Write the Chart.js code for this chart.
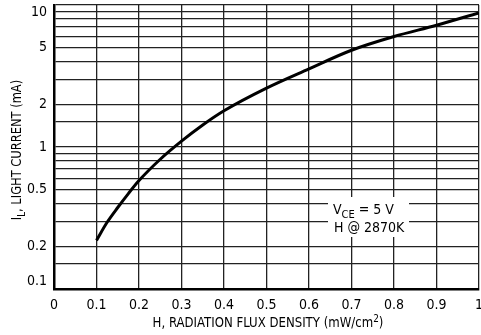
<!DOCTYPE html>
<html lang="en">
<head>
  <meta charset="UTF-8">
  <title>Light Current vs Radiation Flux Density</title>
  <script src="https://cdn.jsdelivr.net/npm/chart.js"></script>
  <style>
    html, body { margin: 0; padding: 0; background: #fff; }
    #wrap { width: 481px; height: 335px; }
  </style>
</head>
<body>
  <div id="wrap"><canvas id="chart"></canvas></div>
  <script>
    // curve
    const fluxH = [0.1, 0.125, 0.15, 0.175, 0.2, 0.25, 0.3, 0.35, 0.4, 0.5, 0.6, 0.7, 0.8, 0.9, 1.0];
    const lightCurrent = [0.22, 0.295, 0.375, 0.47, 0.58, 0.82, 1.1, 1.43, 1.8, 2.6, 3.55, 4.8, 6.0, 7.2, 8.8];

    // grid lines and labelled ticks
    const xTicks = [0, 0.1, 0.2, 0.3, 0.4, 0.5, 0.6, 0.7, 0.8, 0.9, 1];
    const yGrid = [0.1, 0.15, 0.2, 0.3, 0.4, 0.5, 0.6, 0.7, 0.8, 0.9, 1, 1.5, 2, 3, 4, 5, 6, 7, 8, 9, 10];
    const yLabels = [0.1, 0.2, 0.5, 1, 2, 5, 10];

    const FONT = "'Liberation Sans Narrow', 'DejaVu Sans Condensed', Arial, sans-serif";

    // draws text runs (for sub/superscripts); sx squeezes it a bit like the condensed original
    function drawRich(ctx, segs, x, y, align, sx) {
      sx = sx || 1;
      let total = 0;
      segs.forEach(s => { ctx.font = s.size + 'px ' + FONT; s.w = ctx.measureText(s.t).width; total += s.w; });
      ctx.save();
      ctx.translate(x, y);
      ctx.scale(sx, 1);
      let cx = align === 'center' ? -total / 2 : 0;
      ctx.textAlign = 'left';
      ctx.textBaseline = 'alphabetic';
      segs.forEach(s => {
        ctx.font = s.size + 'px ' + FONT;
        ctx.fillText(s.t, cx, s.dy || 0);
        cx += s.w;
      });
      ctx.restore();
    }

    const labelsPlugin = {
      id: 'labelsPlugin',
      beforeDatasetsDraw(chart) {
        const ctx = chart.ctx;
        ctx.save();
        // white patch behind the note
        ctx.fillStyle = '#fff';
        ctx.fillRect(328, 197, 81, 40);
        ctx.fillStyle = '#000';
        drawRich(ctx, [{t: 'V', size: 14}, {t: 'CE', size: 11, dy: 4}, {t: ' = 5 V', size: 14}], 333, 214, 'left');
        drawRich(ctx, [{t: 'H @ 2870K', size: 14}], 334, 232, 'left');
        ctx.restore();
      },
      afterDraw(chart) {
        const ctx = chart.ctx;
        ctx.save();
        ctx.fillStyle = '#000';
        drawRich(ctx, [{t: 'H, RADIATION FLUX DENSITY (mW/cm', size: 14.5}, {t: '2', size: 11, dy: -5}, {t: ')', size: 14.5}], 268, 327, 'center', 0.9);
        ctx.translate(21, 150);
        ctx.rotate(-Math.PI / 2);
        drawRich(ctx, [{t: 'I', size: 14.5}, {t: 'L', size: 11, dy: 4}, {t: ', LIGHT CURRENT (mA)', size: 14.5}], 0, 0, 'center', 0.88);
        ctx.restore();
      }
    };

    // top and bottom labels sit inside the frame, like the original
    function yLabel(v) {
      if (!yLabels.includes(v)) return '';
      if (v === 10) return ['', '10'];
      if (v === 0.1) return ['0.1', ''];
      return String(v);
    }

    new Chart(document.getElementById('chart'), {
      type: 'line',
      data: {
        datasets: [{
          data: fluxH.map((h, i) => ({x: h, y: lightCurrent[i]})),
          borderColor: '#000',
          borderWidth: 3,
          pointRadius: 0,
          cubicInterpolationMode: 'monotone',
          fill: false
        }]
      },
      options: {
        responsive: true,
        maintainAspectRatio: false,
        animation: false,
        layout: { padding: { top: 5, right: 2, left: 0, bottom: 0 } },
        plugins: { legend: { display: false }, tooltip: { enabled: false } },
        scales: {
          x: {
            type: 'linear',
            min: 0,
            max: 1,
            afterBuildTicks: s => { s.ticks = xTicks.map(v => ({value: v})); },
            afterFit: s => { s.height = 46; s.paddingLeft = 0; s.paddingRight = 0; },
            ticks: {
              autoSkip: false,
              maxRotation: 0,
              padding: 8,
              color: '#000',
              font: { family: FONT, size: 14 },
              callback: v => String(Math.round(v * 10) / 10)
            },
            grid: { color: '#222', lineWidth: 1.3, drawTicks: false },
            border: { display: true, color: '#000', width: 2.5 }
          },
          y: {
            type: 'logarithmic',
            min: 0.1,
            max: 10,
            afterBuildTicks: s => { s.ticks = yGrid.map(v => ({value: v})); },
            afterFit: s => { s.width = 54; s.paddingTop = 0; s.paddingBottom = 0; },
            ticks: {
              autoSkip: false,
              padding: 7,
              color: '#000',
              font: { family: FONT, size: 14, lineHeight: 1.1 },
              callback: yLabel
            },
            grid: { color: '#222', lineWidth: 1.3, drawTicks: false },
            border: { display: true, color: '#000', width: 2.5 }
          }
        }
      },
      plugins: [labelsPlugin]
    });
  </script>
</body>
</html>
